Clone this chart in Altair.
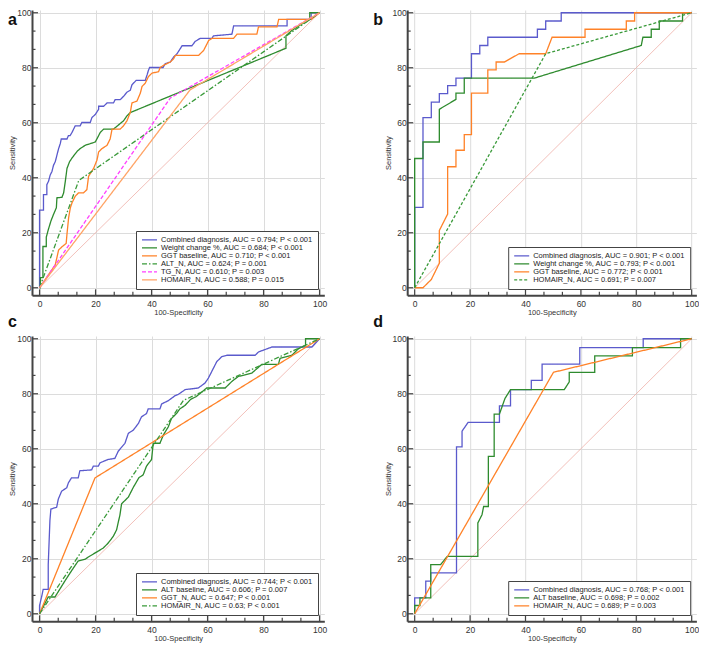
import altair as alt
import pandas as pd

# ---------------- data ----------------
# Panel a
A_NAMES = ["Combined diagnosis, AUC = 0.794; P < 0.001",
           "Weight change %, AUC = 0.684; P < 0.001",
           "GGT baseline, AUC = 0.710; P < 0.001",
           "ALT_N, AUC = 0.624; P = 0.001",
           "TG_N, AUC = 0.610; P = 0.003",
           "HOMAIR_N, AUC = 0.588; P = 0.015"]
A_COMB_X = [0, 0, 1.4, 1.4, 2.6, 2.6, 3.2, 3.8, 4.4, 5.0, 5.6, 6.2, 6.8, 7.4, 7.75, 9.8, 10.3, 10.9, 11.6, 12.75,
            14.5, 15.1, 18.1, 18.7, 19.9, 21.1, 21.1, 22.9, 24.1, 26.4, 27.0, 28.8, 30.0, 31.2, 32.4, 33.0, 34.5,
            37.75, 38.4, 38.9, 39.3, 44.1, 44.9, 46.7, 47.9, 49.1, 50.9, 54.4, 55.6, 57.4, 61.6, 62.1, 68.7, 69.3,
            88.4, 88.4, 97, 97, 100]
A_COMB_Y = [0, 28.2, 28.2, 33.9, 33.9, 37.5, 38.7, 41, 42.2, 44.6, 45.8, 48.2, 50.6, 52.4, 54.1, 54.1, 55.3, 55.3,
            56.5, 58.9, 58.9, 60.1, 60.1, 61.9, 63, 64.9, 66, 66, 67.2, 67.2, 68.4, 68.4, 69.6, 71.1, 71.8, 73.8,
            75.4, 75.4, 77.4, 79.1, 80.1, 80.1, 81.5, 82.1, 83.9, 85.1, 88, 88, 89.6, 90.7, 90.7, 91.6, 92.2, 95.2,
            95.2, 97.6, 97.6, 100, 100]
A_WC_X = [0, 0.3, 0.3, 1.2, 1.2, 2.4, 2.4, 3.2, 4.1, 5.0, 6.0, 6.2, 8.0, 8.6, 9.2, 9.8, 10.7, 11.6, 12.8, 13.4,
          14.5, 16.3, 18.1, 19.9, 21.7, 22.9, 26.4, 27.6, 30.0, 31.2, 32.4, 88.0, 88.0, 90.0, 93.0, 96.5, 96.5, 100]
A_WC_Y = [0, 0, 3.7, 3.7, 15, 15, 18.4, 21.4, 24.4, 26.7, 29.1, 32.7, 32.9, 34.5, 38.7, 43.4, 45.8, 47.2, 48.8,
          49.6, 50.6, 51.8, 52.4, 53, 56.5, 57.7, 57.7, 58.7, 60.7, 62.5, 63.7, 87.1, 91.6, 93.5, 95.5, 97.5, 100, 100]
A_GGT_X = [0, 5.6, 6.8, 8.0, 9.5, 9.8, 10.4, 11.0, 11.6, 12.75, 13.9, 15.7, 16.9, 17.5, 19.3, 20.5, 21.1, 22.3,
           24.1, 25.2, 25.9, 28.8, 30.0, 31.2, 32.4, 33.0, 34.8, 36.0, 36.6, 37.75, 38.9, 40.1, 42.5, 43.1, 44.3,
           46.7, 47.9, 48.5, 56.8, 58.6, 60.4, 61.6, 69.3, 70.5, 77.6, 78.2, 84.8, 85.4, 97, 100]
A_GGT_Y = [0, 8.3, 13.7, 14.9, 16.1, 19.6, 25.6, 29.1, 30.9, 33.3, 34.5, 34.5, 35.7, 40.5, 43.4, 46.4, 49.4, 50.6,
           51.8, 54.1, 57.7, 57.7, 58.9, 60.7, 63.7, 67.2, 67.9, 70.8, 73.2, 74.4, 76.8, 78, 78.6, 80.1, 80.9, 82.1,
           83.3, 84.5, 84.5, 86.3, 89.9, 90.7, 90.7, 92.2, 92.2, 94.9, 94.9, 97.6, 97.6, 100]
A_ALT_X = [0, 14, 100]
A_ALT_Y = [0, 39, 100]
A_TG_X = [0, 46.7, 100]
A_TG_Y = [0, 69, 100]
A_HOMA_X = [0, 53.8, 100]
A_HOMA_Y = [0, 72, 100]

# Panel b
B_NAMES = ["Combined diagnosis, AUC = 0.901; P < 0.001",
           "Weight change %, AUC = 0.793; P < 0.001",
           "GGT baseline, AUC = 0.772; P < 0.001",
           "HOMAIR_N, AUC = 0.691; P = 0.007"]
B_COMB_X = [0, 0, 3, 3, 6, 6, 8.9, 8.9, 11.9, 11.9, 14.9, 14.9, 20.5, 20.5, 23.5, 23.5, 26.4, 26.4, 44.3, 44.3,
            47.3, 47.3, 52.9, 52.9, 100]
B_COMB_Y = [0, 29.2, 29.2, 61.9, 61.9, 67.5, 67.5, 70.6, 70.6, 73.5, 73.5, 76.2, 76.2, 85.1, 85.1, 88.1, 88.1, 91.1,
            91.1, 94, 94, 97, 97, 100, 100]
B_WC_X = [0, 0, 3, 3, 8.9, 8.9, 14.9, 14.9, 17.9, 17.9, 43.1, 81.8, 82.4, 85.4, 85.4, 88.3, 88.3, 96.7, 96.7, 100]
B_WC_Y = [0, 47, 47, 53, 53, 64.9, 68.5, 70.8, 70.8, 76.2, 76.2, 88.1, 91.1, 91.1, 94, 94, 97, 97, 100, 100]
B_GGT_X = [0, 3, 6, 8.9, 8.9, 11.9, 11.9, 14.9, 14.9, 17.9, 17.9, 20.5, 20.5, 26.4, 26.4, 29.4, 29.4, 32.4, 37.7,
           47.3, 49.6, 61.5, 61.5, 76.4, 76.4, 79.4, 79.4, 100]
B_GGT_Y = [0, 0, 3, 8.9, 20.8, 26.8, 44, 44, 50, 50, 55.7, 55.7, 70.8, 70.8, 79.2, 79.2, 82.1, 82.1, 85.1, 85.1,
           91.1, 91.1, 94, 94, 97, 97, 100, 100]
B_HOMA_X = [0, 47.3, 100]
B_HOMA_Y = [0, 85.1, 100]

# Panel c
C_NAMES = ["Combined diagnosis, AUC = 0.744; P < 0.001",
           "ALT baseline, AUC = 0.606; P = 0.007",
           "GGT_N, AUC = 0.647; P < 0.001",
           "HOMAIR_N, AUC = 0.63; P < 0.001"]
C_COMB_X = [0, 0, 0.7, 1.3, 3.1, 3.1, 3.7, 4.05, 6.1, 6.7, 7.9, 9.7, 10.3, 11.4, 13.8, 14.4, 18.6, 19.2, 21, 21.6,
            24.5, 26.9, 28.1, 30.5, 31.7, 33.5, 35.3, 36.4, 38.2, 38.8, 43, 43.6, 46, 48.4, 49.6, 52, 56.7, 59.1,
            60.3, 61.5, 63.3, 65.1, 66.9, 77, 78.2, 83, 97.3, 100]
C_COMB_Y = [0, 3, 6, 8.9, 8.9, 17.9, 33.9, 38.1, 38.7, 41.7, 44.6, 45.8, 47.6, 49.4, 49.4, 52, 52.3, 53.7, 53.7,
            54.9, 56.1, 56.5, 59.1, 62, 65.6, 66.8, 69.2, 71.6, 72.8, 74.5, 74.5, 76.3, 77.5, 79.3, 79.8, 81.5, 82.1,
            83.9, 85.7, 88.1, 91.7, 93.5, 94, 94, 95.2, 97, 97, 100]
C_ALT_X = [0, 3.1, 5.5, 9.1, 11.4, 13.8, 16.2, 18, 21, 22.75, 24.5, 26.3, 27.5, 28.7, 29.3, 31.7, 33.5, 35.5, 37,
           38.2, 40, 40.6, 43, 44.2, 46, 47.1, 48.9, 50.1, 51.9, 54, 56, 59.7, 66.3, 68.7, 71, 75.8, 79.4, 85.3,
           85.9, 90.1, 92.5, 95, 95, 100]
C_ALT_Y = [0, 6.1, 6.1, 12, 15.6, 19.2, 19.8, 21, 22.8, 23.9, 25.7, 28.1, 30.5, 35.9, 40, 42.4, 46, 49.5, 50.5,
           53.7, 56.1, 62, 62, 65, 68, 71, 72.8, 74.5, 75.7, 78, 79, 82.1, 82.1, 84.5, 86.3, 87.5, 90.7, 90.7, 92.9,
           94, 96.4, 97.6, 100, 100]
C_GGT_X = [0, 19.8, 100]
C_GGT_Y = [0, 49.4, 100]
C_HOMA_X = [0, 51.4, 100]
C_HOMA_Y = [0, 77.6, 100]

# Panel d
D_NAMES = ["Combined diagnosis, AUC = 0.768; P < 0.001",
           "ALT baseline, AUC = 0.698; P = 0.002",
           "HOMAIR_N, AUC = 0.689; P = 0.003"]
D_COMB_X = [0, 0, 4, 4, 5.8, 5.8, 15.1, 15.1, 17.1, 17.1, 19.3, 30.6, 30.6, 34.6, 34.6, 42.1, 42.1, 46, 46, 59.6,
            59.6, 82.5, 82.5, 100]
D_COMB_Y = [0, 5.8, 5.8, 11.9, 11.9, 14.9, 14.9, 60.7, 60.7, 66.4, 69.6, 69.6, 75.6, 75.6, 81.5, 81.5, 84.9, 84.9,
            90.8, 90.8, 96.8, 96.8, 100, 100]
D_ALT_X = [0, 0, 1.9, 1.9, 5.8, 5.8, 9.4, 11.8, 22.8, 22.8, 24.3, 24.9, 26.6, 26.6, 28.7, 28.7, 30.6, 32.6, 34.6,
           54, 55.8, 55.8, 65, 65, 78.6, 78.6, 96, 96, 100]
D_ALT_Y = [0, 3, 3, 5.8, 5.8, 17.9, 17.9, 20.9, 20.9, 33, 36, 39, 39, 57.2, 57.2, 72.6, 72.6, 78.3, 81.5, 81.5,
           84.3, 87.8, 87.8, 93.8, 93.8, 96.8, 96.8, 100, 100]
D_HOMA_X = [0, 50.1, 100]
D_HOMA_Y = [0, 87.8, 100]

# reference diagonal and axis ticks
DIAG_X = [0, 100]
DIAG_Y = [0, 100]
MAJOR_TICKS = [0, 20, 40, 60, 80, 100]
MINOR_TICKS = [6.67, 13.33, 26.67, 33.33, 46.67, 53.33, 66.67, 73.33, 86.67, 93.33]

# ---------------- styling ----------------
FONT = "Arial, Liberation Sans, sans-serif"
BLUE = "#5a5acc"
GREEN = "#2e8b2e"
GREEN_D = "#3a9a3a"
ORANGE = "#ff8228"
LORANGE = "#ffa466"
MAGENTA = "#ff40ff"
DIAG = "#efb0a8"
AXIS = "#444444"
SOLID = [1, 0]

PXY = 2.75
X_DOM = [-2.7, 101.7]
Y_DOM = [-2.75, 101.0]
H = (Y_DOM[1] - Y_DOM[0]) * PXY


def panel(names, xs, ys, colors, dashes, letter, lx, ly, pxx):
    W = (X_DOM[1] - X_DOM[0]) * pxx
    rows = []
    for name, sx, sy in zip(names, xs, ys):
        for i, (a, b) in enumerate(zip(sx, sy)):
            rows.append({"series": name, "x": a, "y": b, "i": i})
    df = pd.DataFrame(rows)
    xs_ = alt.Scale(domain=X_DOM, nice=False, zero=False)
    ys_ = alt.Scale(domain=Y_DOM, nice=False, zero=False)
    xaxis = alt.Axis(values=MAJOR_TICKS, title="100-Specificity", grid=True, ticks=False,
                     tickSize=0, labelFlush=False)
    yaxis = alt.Axis(values=MAJOR_TICKS, title="Sensitivity", grid=True, ticks=False,
                     tickSize=0, labelFlush=False)
    X = lambda f: alt.X(f, scale=xs_, axis=xaxis)
    Y = lambda f: alt.Y(f, scale=ys_, axis=yaxis)

    diag = alt.Chart(pd.DataFrame({"x": DIAG_X, "y": DIAG_Y})).mark_line(
        color=DIAG, strokeWidth=0.8).encode(x=X("x:Q"), y=Y("y:Q"))

    def xticks(vals, ln):
        return alt.Chart(pd.DataFrame({"v": vals})).mark_rule(color=AXIS, strokeWidth=1.2).encode(
            x=X("v:Q"), y=alt.value(H), y2=alt.value(H - ln))

    def yticks(vals, ln):
        return alt.Chart(pd.DataFrame({"v": vals})).mark_rule(color=AXIS, strokeWidth=1.2).encode(
            y=Y("v:Q"), x=alt.value(0), x2=alt.value(ln))

    lines = alt.Chart(df).mark_line(strokeWidth=1.3).encode(
        x=X("x:Q"), y=Y("y:Q"),
        color=alt.Color("series:N", scale=alt.Scale(domain=names, range=colors),
                        legend=alt.Legend(title=None)),
        strokeDash=alt.StrokeDash("series:N", scale=alt.Scale(domain=names, range=dashes),
                                  legend=alt.Legend(title=None)),
        order=alt.Order("i:Q"))

    lab = alt.Chart(pd.DataFrame({"t": [letter]})).mark_text(
        font=FONT, fontSize=16, fontWeight="bold", align="left", baseline="alphabetic",
        color="#111111").encode(text="t:N", x=alt.value(lx), y=alt.value(ly))

    return alt.layer(diag, xticks(MAJOR_TICKS, 6), xticks(MINOR_TICKS, 3.5),
                     yticks(MAJOR_TICKS, 6), yticks(MINOR_TICKS, 3.5), lines, lab).properties(
        width=W, height=H)


pa = panel(A_NAMES, [A_COMB_X, A_WC_X, A_GGT_X, A_ALT_X, A_TG_X, A_HOMA_X],
           [A_COMB_Y, A_WC_Y, A_GGT_Y, A_ALT_Y, A_TG_Y, A_HOMA_Y],
           [BLUE, GREEN, ORANGE, GREEN_D, MAGENTA, LORANGE],
           [SOLID, SOLID, SOLID, [5, 2, 1.5, 2], [4, 2], SOLID], "a", -24, 14.7, 2.8)
pb = panel(B_NAMES, [B_COMB_X, B_WC_X, B_GGT_X, B_HOMA_X],
           [B_COMB_Y, B_WC_Y, B_GGT_Y, B_HOMA_Y],
           [BLUE, GREEN, ORANGE, GREEN_D],
           [SOLID, SOLID, SOLID, [3, 2]], "b", -34, 14.7, 2.77)
pc = panel(C_NAMES, [C_COMB_X, C_ALT_X, C_GGT_X, C_HOMA_X],
           [C_COMB_Y, C_ALT_Y, C_GGT_Y, C_HOMA_Y],
           [BLUE, GREEN, ORANGE, GREEN_D],
           [SOLID, SOLID, SOLID, [5, 2, 1.5, 2]], "c", -24, -8.9, 2.8)
pd_ = panel(D_NAMES, [D_COMB_X, D_ALT_X, D_HOMA_X],
            [D_COMB_Y, D_ALT_Y, D_HOMA_Y],
            [BLUE, GREEN, ORANGE],
            [SOLID, SOLID, SOLID], "d", -34, -8.9, 2.77)

chart = alt.concat(pa, pb, pc, pd_, columns=2, bounds="flush",
                   spacing={"row": 40, "column": 82.2}).resolve_scale(
    color="independent", strokeDash="independent", x="independent", y="independent"
).resolve_legend(color="independent", strokeDash="independent").properties(
    padding=0, background="white"
).configure_view(stroke=None).configure_axis(
    domainColor=AXIS, domainWidth=2, gridColor="#dcdcdc", gridWidth=1,
    labelFont=FONT, labelFontSize=8.5, labelColor="#333333",
    titleFont=FONT, titleFontSize=7.5, titleFontWeight="normal", titleColor="#333333",
    tickSize=0
).configure_axisX(labelPadding=4, titlePadding=1).configure_axisY(
    labelPadding=1, titlePadding=0
).configure_legend(
    orient="bottom-right", offset=6, padding=5, strokeColor="#444444", fillColor="white",
    labelFont=FONT, labelFontSize=7.5, labelColor="#222222", labelLimit=0,
    symbolType="stroke", symbolSize=225, symbolStrokeWidth=1.3, rowPadding=-1.6,
    clipHeight=7.6, labelOffset=3, cornerRadius=0
)

chart.save("out.html", embed_options={"renderer": "svg", "actions": False})
